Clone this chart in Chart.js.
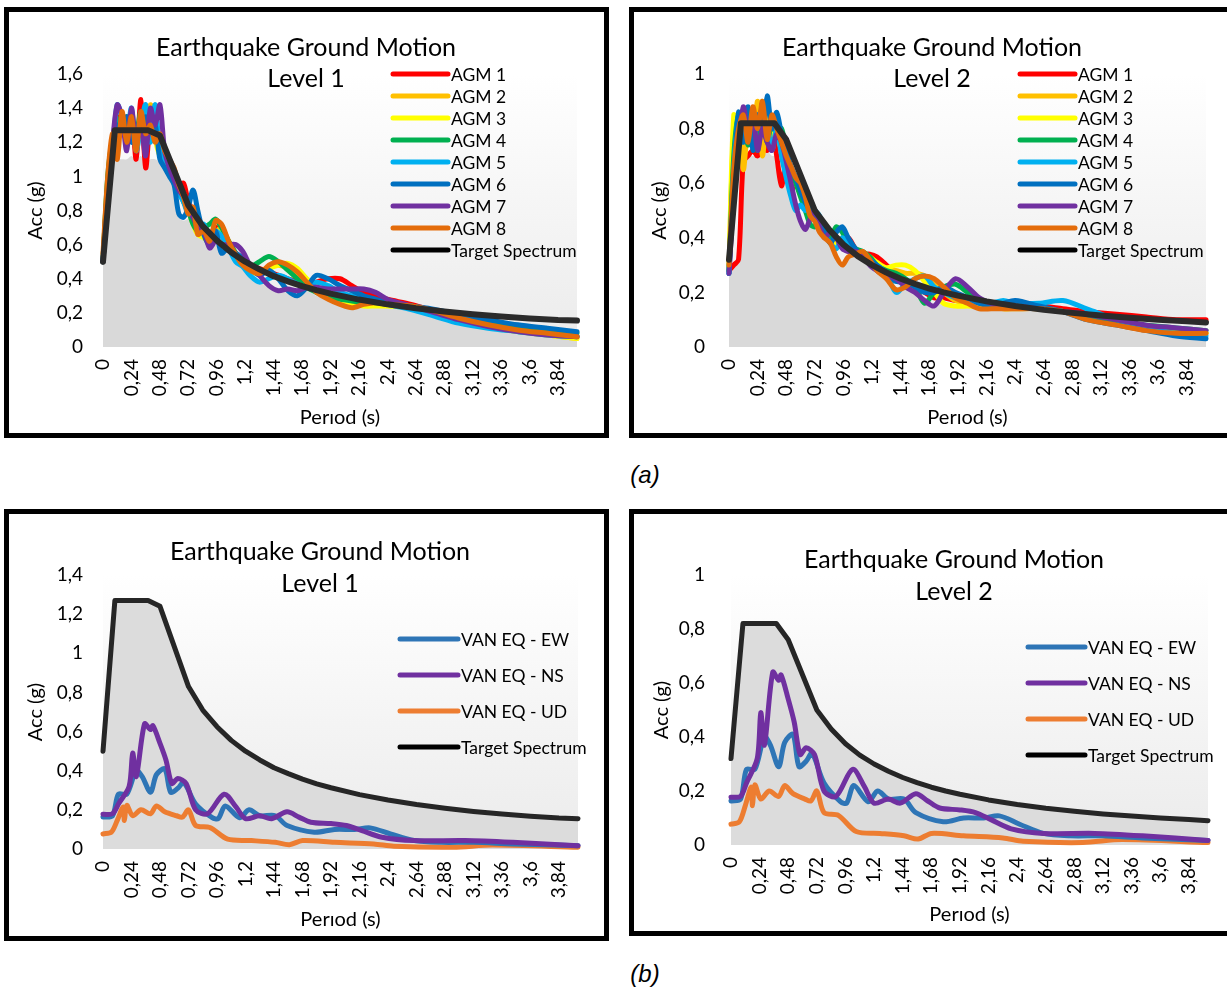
<!DOCTYPE html>
<html>
<head>
<meta charset="utf-8">
<script src="https://cdn.jsdelivr.net/npm/chart.js@4.4.1/dist/chart.umd.min.js"></script>
<style>
body { margin: 0; background: #fff; }
#page { position: relative; width: 1227px; height: 990px; overflow: hidden; font-family: Lato, sans-serif; }
.panel { position: absolute; border: 5px solid #000; box-sizing: border-box; background: #fff; }
.panel canvas { position: absolute; left: 0; top: 0; }
.ttl { position: absolute; transform: translate(-50%, -50%); font-size: 25px; white-space: nowrap; color: #000; z-index: 2; }
.cap { position: absolute; transform: translate(-50%, -50%); font: italic 24px "Liberation Sans", Arial, sans-serif; }
</style>
</head>
<body>
<div id="page">
  <div class="panel" style="left:4px;top:7px;width:605px;height:431px"><canvas id="c1" width="595" height="421"></canvas></div>
  <div class="panel" style="left:629px;top:7px;width:611px;height:431px"><canvas id="c2" width="601" height="421"></canvas></div>
  <div class="panel" style="left:4px;top:509px;width:605px;height:432px"><canvas id="c3" width="595" height="422"></canvas></div>
  <div class="panel" style="left:629px;top:509px;width:611px;height:427px"><canvas id="c4" width="601" height="417"></canvas></div>

  <div class="ttl" style="left:306px;top:46px">Earthquake Ground Motion</div>
  <div class="ttl" style="left:306px;top:77px">Level 1</div>
  <div class="ttl" style="left:932px;top:46px">Earthquake Ground Motion</div>
  <div class="ttl" style="left:932px;top:77px">Level 2</div>
  <div class="ttl" style="left:320px;top:550px">Earthquake Ground Motion</div>
  <div class="ttl" style="left:320px;top:582px">Level 1</div>
  <div class="ttl" style="left:954px;top:558px">Earthquake Ground Motion</div>
  <div class="ttl" style="left:954px;top:590px">Level 2</div>

  <div class="cap" style="left:645px;top:475px">(a)</div>
  <div class="cap" style="left:645px;top:974px">(b)</div>
</div>

<script>
// x axis labels (period, s)
const periodTicks = [0, 0.24, 0.48, 0.72, 0.96, 1.2, 1.44, 1.68, 1.92, 2.16, 2.4, 2.64, 2.88, 3.12, 3.36, 3.6, 3.84];

// target spectra
const targetPeriods = [0, 0.1, 0.38, 0.48, 0.72, 0.84, 0.96, 1.08, 1.2, 1.32, 1.44, 1.56, 1.68, 1.8, 1.92, 2.16, 2.4, 2.64, 2.88, 3.12, 3.36, 3.6, 3.84, 4.0];
const targetLevel1 = [0.5, 1.27, 1.27, 1.24, 0.83, 0.71, 0.625, 0.555, 0.5, 0.455, 0.415, 0.385, 0.357, 0.333, 0.313, 0.278, 0.25, 0.227, 0.208, 0.192, 0.179, 0.167, 0.158, 0.155];
const targetLevel2 = [0.32, 0.82, 0.82, 0.76, 0.5, 0.43, 0.375, 0.333, 0.3, 0.273, 0.25, 0.231, 0.214, 0.2, 0.188, 0.167, 0.15, 0.136, 0.125, 0.115, 0.107, 0.1, 0.094, 0.09];

// scaled ground motions (AGM), same period grid
const agmPeriods = [0, 0.04, 0.08, 0.12, 0.16, 0.2, 0.24, 0.28, 0.32, 0.36, 0.4, 0.44, 0.48, 0.52, 0.56, 0.6, 0.64, 0.68, 0.72, 0.76, 0.8, 0.85, 0.9, 0.95, 1.0, 1.06, 1.12, 1.18, 1.24, 1.32, 1.4, 1.48, 1.56, 1.64, 1.72, 1.8, 1.9, 2.0, 2.1, 2.2, 2.3, 2.4, 2.6, 2.8, 3.0, 3.25, 3.5, 3.75, 4.0];

const agm1Level1 = [0.5, 0.95, 1.2, 1.35, 1.3, 1.25, 1.38, 1.1, 1.45, 1.05, 1.3, 1.25, 1.2, 1.15, 1.05, 1.0, 0.95, 0.96, 0.85, 0.8, 0.72, 0.7, 0.66, 0.7, 0.68, 0.6, 0.55, 0.52, 0.48, 0.46, 0.44, 0.42, 0.4, 0.38, 0.36, 0.38, 0.4, 0.4, 0.36, 0.32, 0.3, 0.28, 0.25, 0.21, 0.18, 0.14, 0.11, 0.08, 0.06];
const agm2Level1 = [0.52, 0.98, 1.22, 1.3, 1.25, 1.35, 1.3, 1.22, 1.35, 1.25, 1.42, 1.3, 1.15, 1.12, 1.08, 1.02, 0.95, 0.9, 0.82, 0.75, 0.68, 0.66, 0.65, 0.67, 0.7, 0.62, 0.55, 0.5, 0.46, 0.44, 0.47, 0.48, 0.46, 0.42, 0.37, 0.34, 0.32, 0.3, 0.28, 0.26, 0.26, 0.25, 0.24, 0.2, 0.16, 0.12, 0.09, 0.07, 0.05];
const agm3Level1 = [0.5, 0.92, 1.2, 1.32, 1.3, 1.28, 1.35, 1.25, 1.3, 1.2, 1.38, 1.22, 1.12, 1.1, 1.05, 1.0, 0.94, 0.9, 0.8, 0.72, 0.66, 0.64, 0.62, 0.66, 0.68, 0.6, 0.54, 0.5, 0.45, 0.43, 0.46, 0.48, 0.49, 0.46, 0.4, 0.35, 0.3, 0.27, 0.25, 0.24, 0.24, 0.24, 0.23, 0.2, 0.16, 0.12, 0.09, 0.07, 0.05];
const agm4Level1 = [0.5, 1.0, 1.22, 1.3, 1.35, 1.2, 1.3, 1.25, 1.38, 1.22, 1.3, 1.25, 1.18, 1.15, 1.08, 1.0, 0.93, 0.85, 0.8, 0.72, 0.68, 0.7, 0.72, 0.75, 0.7, 0.62, 0.55, 0.5, 0.47, 0.5, 0.53, 0.5, 0.45, 0.4, 0.35, 0.32, 0.29, 0.28, 0.27, 0.26, 0.26, 0.25, 0.24, 0.21, 0.18, 0.15, 0.12, 0.1, 0.08];
const agm5Level1 = [0.5, 0.9, 1.15, 1.42, 1.35, 1.25, 1.4, 1.15, 1.3, 1.42, 1.2, 1.42, 1.15, 1.1, 1.05, 0.98, 0.9, 0.85, 0.78, 0.8, 0.7, 0.72, 0.62, 0.68, 0.65, 0.58, 0.5, 0.47, 0.42, 0.38, 0.4, 0.42, 0.4, 0.37, 0.35, 0.38, 0.36, 0.32, 0.3, 0.28, 0.27, 0.25, 0.22, 0.18, 0.14, 0.11, 0.09, 0.07, 0.06];
const agm6Level1 = [0.5, 0.9, 1.15, 1.3, 1.25, 1.35, 1.2, 1.3, 1.25, 1.35, 1.25, 1.3, 1.1, 1.05, 1.0, 0.95, 0.78, 0.76, 0.82, 0.92, 0.8, 0.66, 0.6, 0.68, 0.55, 0.58, 0.55, 0.52, 0.47, 0.42, 0.45, 0.4, 0.33, 0.3, 0.35, 0.42, 0.4, 0.36, 0.33, 0.3, 0.28, 0.26, 0.24, 0.22, 0.19, 0.16, 0.13, 0.11, 0.09];
const agm7Level1 = [0.5, 0.95, 1.2, 1.42, 1.35, 1.15, 1.4, 1.2, 1.3, 1.12, 1.4, 1.3, 1.42, 1.15, 1.05, 0.98, 0.92, 0.88, 0.8, 0.76, 0.7, 0.68, 0.58, 0.62, 0.6, 0.6, 0.6, 0.56, 0.48, 0.42, 0.36, 0.33, 0.34, 0.33, 0.35, 0.35, 0.34, 0.34, 0.34, 0.34, 0.32, 0.28, 0.24, 0.2, 0.16, 0.12, 0.09, 0.07, 0.06];
const agm8Level1 = [0.55, 1.0, 1.25, 1.1, 1.38, 1.2, 1.35, 1.15, 1.38, 1.25, 1.3, 1.2, 1.25, 1.15, 1.1, 1.05, 0.95, 0.88, 0.78, 0.82, 0.66, 0.68, 0.62, 0.74, 0.72, 0.62, 0.54, 0.48, 0.45, 0.43, 0.48, 0.5, 0.48, 0.44, 0.38, 0.32, 0.28, 0.25, 0.23, 0.25, 0.26, 0.25, 0.24, 0.21, 0.17, 0.13, 0.1, 0.08, 0.06];
// top of the grey area under the AGM curves
const floorLevel1 = [0.5, 0.85, 1.1, 1.1, 1.1, 1.1, 1.12, 1.1, 1.12, 1.08, 1.1, 1.1, 1.08, 1.05, 1.0, 0.95, 0.76, 0.74, 0.75, 0.72, 0.65, 0.63, 0.56, 0.6, 0.54, 0.55, 0.5, 0.46, 0.42, 0.38, 0.35, 0.32, 0.32, 0.29, 0.33, 0.3, 0.27, 0.26, 0.23, 0.23, 0.23, 0.23, 0.21, 0.18, 0.14, 0.11, 0.08, 0.06, 0.05];

const agm1Level2 = [0.28, 0.3, 0.32, 0.68, 0.7, 0.72, 0.7, 0.75, 0.72, 0.8, 0.7, 0.59, 0.68, 0.57, 0.62, 0.58, 0.52, 0.5, 0.47, 0.46, 0.45, 0.42, 0.4, 0.38, 0.4, 0.36, 0.34, 0.34, 0.33, 0.3, 0.27, 0.24, 0.22, 0.2, 0.18, 0.18, 0.17, 0.17, 0.16, 0.15, 0.15, 0.15, 0.15, 0.14, 0.13, 0.12, 0.11, 0.1, 0.1];
const agm2Level2 = [0.28, 0.8, 0.85, 0.65, 0.8, 0.75, 0.9, 0.7, 0.85, 0.78, 0.8, 0.72, 0.7, 0.66, 0.6, 0.58, 0.55, 0.52, 0.48, 0.45, 0.43, 0.42, 0.38, 0.4, 0.38, 0.35, 0.34, 0.33, 0.3, 0.28, 0.28, 0.27, 0.27, 0.26, 0.23, 0.2, 0.17, 0.16, 0.15, 0.15, 0.14, 0.14, 0.14, 0.13, 0.11, 0.09, 0.07, 0.06, 0.05];
const agm3Level2 = [0.28, 0.85, 0.82, 0.8, 0.75, 0.85, 0.8, 0.9, 0.75, 0.8, 0.78, 0.75, 0.72, 0.65, 0.6, 0.56, 0.52, 0.5, 0.47, 0.45, 0.42, 0.4, 0.38, 0.37, 0.35, 0.35, 0.34, 0.33, 0.31, 0.29, 0.3, 0.3, 0.28, 0.24, 0.2, 0.16, 0.15, 0.15, 0.15, 0.16, 0.15, 0.15, 0.14, 0.13, 0.11, 0.09, 0.07, 0.06, 0.05];
const agm4Level2 = [0.28, 0.7, 0.85, 0.8, 0.74, 0.78, 0.72, 0.85, 0.75, 0.82, 0.78, 0.8, 0.72, 0.65, 0.6, 0.55, 0.5, 0.45, 0.44, 0.46, 0.44, 0.4, 0.44, 0.42, 0.38, 0.36, 0.35, 0.33, 0.3, 0.28, 0.27, 0.25, 0.22, 0.16, 0.2, 0.22, 0.23, 0.2, 0.17, 0.16, 0.16, 0.15, 0.14, 0.13, 0.11, 0.09, 0.08, 0.07, 0.06];
const agm5Level2 = [0.27, 0.65, 0.85, 0.85, 0.8, 0.75, 0.85, 0.78, 0.8, 0.72, 0.8, 0.7, 0.62, 0.55, 0.5, 0.52, 0.5, 0.52, 0.5, 0.48, 0.42, 0.38, 0.36, 0.4, 0.38, 0.35, 0.33, 0.32, 0.3, 0.27, 0.2, 0.23, 0.25, 0.26, 0.22, 0.2, 0.18, 0.17, 0.16, 0.16, 0.17, 0.16, 0.16, 0.17, 0.14, 0.1, 0.07, 0.05, 0.04];
const agm6Level2 = [0.27, 0.6, 0.86, 0.75, 0.88, 0.72, 0.85, 0.78, 0.92, 0.8, 0.86, 0.78, 0.72, 0.66, 0.62, 0.57, 0.53, 0.5, 0.48, 0.45, 0.42, 0.38, 0.42, 0.44, 0.4, 0.36, 0.33, 0.32, 0.3, 0.27, 0.24, 0.24, 0.22, 0.2, 0.2, 0.22, 0.2, 0.18, 0.16, 0.15, 0.16, 0.17, 0.15, 0.13, 0.1, 0.08, 0.06, 0.04, 0.03];
const agm7Level2 = [0.27, 0.55, 0.75, 0.88, 0.78, 0.85, 0.72, 0.8, 0.75, 0.72, 0.78, 0.75, 0.68, 0.6, 0.52, 0.46, 0.43, 0.47, 0.5, 0.44, 0.4, 0.42, 0.4, 0.36, 0.35, 0.35, 0.34, 0.3, 0.28, 0.26, 0.25, 0.22, 0.2, 0.17, 0.15, 0.2, 0.25, 0.22, 0.18, 0.16, 0.15, 0.15, 0.14, 0.13, 0.12, 0.1, 0.08, 0.07, 0.06];
const agm8Level2 = [0.3, 0.65, 0.8, 0.85, 0.75, 0.88, 0.8, 0.9, 0.76, 0.85, 0.8, 0.75, 0.7, 0.66, 0.62, 0.6, 0.55, 0.48, 0.46, 0.42, 0.4, 0.38, 0.33, 0.3, 0.33, 0.34, 0.35, 0.32, 0.28, 0.25, 0.21, 0.22, 0.25, 0.26, 0.25, 0.22, 0.18, 0.16, 0.14, 0.14, 0.14, 0.14, 0.14, 0.13, 0.1, 0.08, 0.06, 0.05, 0.05];
const floorLevel2 = [0.27, 0.3, 0.32, 0.65, 0.7, 0.7, 0.7, 0.72, 0.72, 0.7, 0.7, 0.59, 0.62, 0.55, 0.5, 0.46, 0.43, 0.45, 0.44, 0.42, 0.4, 0.38, 0.33, 0.3, 0.33, 0.33, 0.32, 0.3, 0.27, 0.25, 0.2, 0.21, 0.2, 0.16, 0.15, 0.16, 0.15, 0.15, 0.14, 0.14, 0.14, 0.14, 0.13, 0.12, 0.1, 0.07, 0.05, 0.04, 0.03];

// VAN earthquake records (unscaled)
const ewPeriods = [0, 0.08, 0.13, 0.2, 0.28, 0.33, 0.4, 0.45, 0.52, 0.57, 0.63, 0.68, 0.78, 0.92, 0.97, 1.03, 1.15, 1.23, 1.32, 1.45, 1.55, 1.78, 1.95, 2.12, 2.25, 2.42, 2.62, 2.85, 3.12, 3.45, 4.0];
const ewValues = [0.163, 0.17, 0.28, 0.28, 0.4, 0.37, 0.29, 0.38, 0.41, 0.29, 0.31, 0.34, 0.23, 0.16, 0.155, 0.22, 0.16, 0.2, 0.17, 0.17, 0.12, 0.086, 0.1, 0.1, 0.108, 0.077, 0.043, 0.034, 0.034, 0.026, 0.017];
const nsPeriods = [0, 0.08, 0.13, 0.22, 0.25, 0.28, 0.35, 0.4, 0.42, 0.48, 0.53, 0.58, 0.63, 0.7, 0.78, 0.88, 1.02, 1.12, 1.2, 1.32, 1.42, 1.55, 1.65, 1.75, 1.92, 2.05, 2.18, 2.35, 2.62, 3.05, 3.45, 4.0];
const nsValues = [0.177, 0.18, 0.23, 0.32, 0.49, 0.37, 0.64, 0.61, 0.63, 0.54, 0.455, 0.335, 0.36, 0.335, 0.2, 0.18, 0.28, 0.215, 0.155, 0.17, 0.155, 0.19, 0.163, 0.137, 0.13, 0.12, 0.094, 0.06, 0.043, 0.043, 0.034, 0.017];
const udPeriods = [0, 0.07, 0.12, 0.17, 0.18, 0.2, 0.25, 0.32, 0.4, 0.45, 0.52, 0.62, 0.67, 0.72, 0.78, 0.9, 1.05, 1.25, 1.45, 1.57, 1.68, 1.95, 2.28, 2.45, 2.95, 3.28, 4.0];
const udValues = [0.077, 0.086, 0.146, 0.215, 0.146, 0.223, 0.17, 0.2, 0.18, 0.22, 0.19, 0.17, 0.163, 0.2, 0.12, 0.11, 0.05, 0.043, 0.034, 0.022, 0.043, 0.034, 0.026, 0.014, 0.009, 0.02, 0.009];

const agmNames = ['AGM 1', 'AGM 2', 'AGM 3', 'AGM 4', 'AGM 5', 'AGM 6', 'AGM 7', 'AGM 8'];
const agmColors = ['#FF0000', '#FFC000', '#FFFF00', '#00B050', '#00B0F0', '#0070C0', '#7030A0', '#E46C0A'];

const comma = v => String(Number(v.toFixed(2))).replace('.', ',');
const toPoints = (xs, ys) => xs.map((x, i) => ({ x: x, y: ys[i] }));

function lineSet(label, color, xs, ys, order, width, tension) {
    return {
        label: label, data: toPoints(xs, ys), borderColor: color, backgroundColor: color,
        borderWidth: width, pointRadius: 0, tension: tension, order: order, fill: false,
        borderJoinStyle: 'round', borderCapStyle: 'round', clip: 8
    };
}

// plot area background: white fading to light grey
const plotBackground = {
    id: 'plotBackground',
    beforeDraw(chart) {
        const a = chart.chartArea, ctx = chart.ctx;
        const g = ctx.createLinearGradient(0, a.top, 0, a.bottom);
        g.addColorStop(0, '#ffffff');
        g.addColorStop(1, '#ebebeb');
        ctx.save();
        ctx.fillStyle = g;
        ctx.fillRect(a.left, a.top, a.right - a.left, a.bottom - a.top);
        ctx.restore();
    }
};

// legend drawn inside the plot, one row per labelled dataset
const inlineLegend = {
    id: 'inlineLegend',
    afterDraw(chart, args, o) {
        const ctx = chart.ctx;
        ctx.save();
        ctx.font = o.fontSize + 'px Lato';
        ctx.textBaseline = 'middle';
        let row = 0;
        chart.data.datasets.forEach(ds => {
            if (!ds.label) return;
            const y = o.y + row * o.dy;
            ctx.strokeStyle = ds.legendColor || ds.borderColor;
            ctx.lineWidth = 5;
            ctx.lineCap = 'round';
            ctx.beginPath();
            ctx.moveTo(o.x, y);
            ctx.lineTo(o.x + o.len, y);
            ctx.stroke();
            ctx.fillStyle = '#000';
            ctx.fillText(ds.label, o.x + o.len + 3, y + 1);
            row++;
        });
        ctx.restore();
    }
};

function makeChart(id, p) {
    const canvas = document.getElementById(id);
    return new Chart(canvas, {
        type: 'line',
        data: { datasets: p.datasets },
        plugins: [plotBackground, inlineLegend],
        options: {
            responsive: false,
            animation: false,
            layout: { padding: { top: p.area.t, right: canvas.width - p.area.r, left: 0, bottom: 0 } },
            plugins: {
                legend: { display: false },
                tooltip: { enabled: false },
                filler: { propagate: false, drawTime: 'beforeDatasetsDraw' },
                inlineLegend: p.legend
            },
            scales: {
                x: {
                    type: 'linear', min: 0, max: 4,
                    grid: { display: false, drawTicks: false },
                    border: { display: false },
                    afterBuildTicks: s => { s.ticks = periodTicks.map(v => ({ value: v })); },
                    afterFit: s => { s.height = canvas.height - p.area.b; },
                    ticks: {
                        autoSkip: false, minRotation: 90, maxRotation: 90, padding: 12,
                        color: '#000', font: { family: 'Lato', size: 19 },
                        callback: v => comma(v)
                    },
                    title: {
                        display: true, text: 'Perıod (s)', color: '#000',
                        font: { family: 'Lato', size: 20 }, padding: { top: 0, bottom: p.xTitlePad }
                    }
                },
                y: {
                    min: 0, max: p.yMax,
                    grid: { display: false, drawTicks: false },
                    border: { display: false },
                    afterFit: s => { s.width = p.area.l; },
                    ticks: {
                        stepSize: 0.2, padding: p.yTickPad, color: '#000',
                        font: { family: 'Lato', size: 19 },
                        callback: v => comma(v)
                    },
                    title: {
                        display: true, text: 'Acc (g)', color: '#000',
                        font: { family: 'Lato', size: 20 }, padding: { top: p.yTitlePad, bottom: 0 }
                    }
                }
            }
        }
    });
}

function agmSets(series, floor, target) {
    const sets = series.map((ys, i) =>
        lineSet(agmNames[i], agmColors[i], agmPeriods, ys, 10 - i, 5, 0.3));
    const t = lineSet('Target Spectrum', '#2b2b2b', targetPeriods, target, 1, 6, 0);
    t.legendColor = '#000';
    sets.push(t);
    sets.push({
        data: toPoints(agmPeriods, floor), borderWidth: 0, pointRadius: 0, tension: 0.3,
        backgroundColor: '#d9d9d9', fill: 'origin', order: 20
    });
    return sets;
}

function vanSets(target) {
    const t = lineSet('Target Spectrum', '#262626', targetPeriods, target, 1, 5, 0);
    t.fill = 'origin';
    t.backgroundColor = '#dcdcdc';
    t.legendColor = '#000';
    return [
        lineSet('VAN EQ - EW', '#2E75B6', ewPeriods, ewValues, 4, 5, 0.3),
        lineSet('VAN EQ - NS', '#7030A0', nsPeriods, nsValues, 3, 5, 0.3),
        lineSet('VAN EQ - UD', '#ED7D31', udPeriods, udValues, 5, 5, 0.3),
        t
    ];
}

makeChart('c1', {
    yMax: 1.6, area: { l: 94, t: 62, r: 568, b: 335 }, yTickPad: 20, yTitlePad: 15, xTitlePad: 3,
    legend: { x: 384, y: 62, dy: 22, len: 55, fontSize: 17.5 },
    datasets: agmSets([agm1Level1, agm2Level1, agm3Level1, agm4Level1, agm5Level1, agm6Level1, agm7Level1, agm8Level1], floorLevel1, targetLevel1)
});

makeChart('c2', {
    yMax: 1, area: { l: 95, t: 62, r: 572, b: 335 }, yTickPad: 24, yTitlePad: 14, xTitlePad: 3,
    legend: { x: 386, y: 62, dy: 22, len: 55, fontSize: 17.5 },
    datasets: agmSets([agm1Level2, agm2Level2, agm3Level2, agm4Level2, agm5Level2, agm6Level2, agm7Level2, agm8Level2], floorLevel2, targetLevel2)
});

makeChart('c3', {
    yMax: 1.4, area: { l: 94, t: 61, r: 569, b: 335 }, yTickPad: 20, yTitlePad: 15, xTitlePad: 4,
    legend: { x: 391, y: 125, dy: 36, len: 58, fontSize: 17.5 },
    datasets: vanSets(targetLevel1)
});

makeChart('c4', {
    yMax: 1, area: { l: 97, t: 61, r: 574, b: 331 }, yTickPad: 26, yTitlePad: 16, xTitlePad: 4,
    legend: { x: 394, y: 133, dy: 36, len: 57, fontSize: 17.5 },
    datasets: vanSets(targetLevel2)
});
</script>
</body>
</html>
